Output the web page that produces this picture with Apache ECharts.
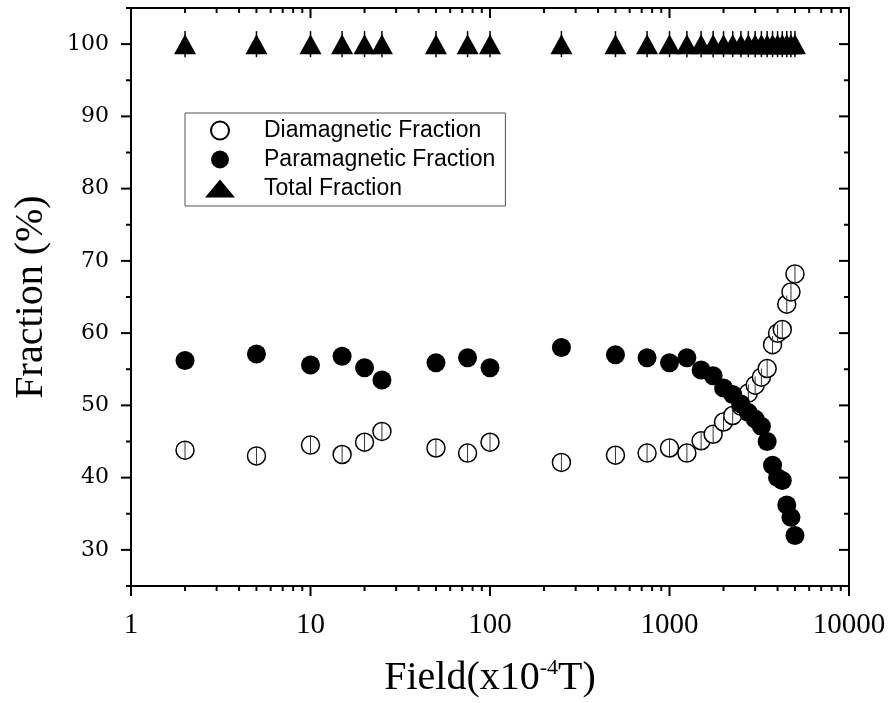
<!DOCTYPE html>
<html>
<head>
<meta charset="utf-8">
<title>Fraction vs Field</title>
<script src="https://cdn.jsdelivr.net/npm/echarts@6/dist/echarts.min.js"></script>
<style>
  html, body { margin: 0; padding: 0; background: #fff; }
  #chart { width: 891px; height: 703px; }
</style>
</head>
<body>
<div id="chart"></div>
<script>
// Applied field (x10^-4 T)
const fields = [2, 5, 10, 15, 20, 25, 50, 75, 100, 250, 500, 750,
  1000, 1250, 1500, 1750, 2000, 2250, 2500, 2750, 3000, 3250, 3500,
  3750, 4000, 4250, 4500, 4750, 5000];

// Fractions (%)
const diaValues = [43.8, 43.0, 44.5, 43.2, 44.9, 46.4, 44.1, 43.4, 44.9, 42.1, 43.1, 43.4,
  44.1, 43.4, 45.1, 46.0, 47.7, 48.6, 49.9, 51.7, 52.8, 53.9, 55.1,
  58.4, 60.0, 60.5, 64.0, 65.7, 68.2];
const paraValues = [56.2, 57.1, 55.6, 56.8, 55.2, 53.5, 55.9, 56.6, 55.2, 58.0, 57.0, 56.6,
  55.9, 56.6, 54.9, 54.1, 52.4, 51.5, 50.2, 49.0, 48.1, 47.1, 45.0,
  41.7, 40.0, 39.6, 36.2, 34.5, 32.0];
const totalValues = [100, 100, 100, 100, 100, 100, 100, 100, 100, 100, 100, 100,
  100, 100, 100, 100, 100, 100, 100, 100, 100, 100, 100,
  100, 100, 100, 100, 100, 100];

// Error bar half-widths (%)
const diaErrors = [1.2, 1.2, 1.2, 1.2, 1.2, 1.2, 1.2, 1.2, 1.2, 1.2, 1.2, 1.2,
  1.2, 1.2, 1.2, 1.2, 1.2, 1.2, 1.2, 1.2, 1.2, 1.2, 1.2,
  1.2, 1.2, 1.2, 1.2, 1.2, 1.2];
const totalErrors = [1.8, 1.8, 1.8, 1.8, 1.8, 1.8, 1.8, 1.8, 1.8, 1.8, 1.8, 1.8,
  1.8, 1.8, 1.8, 1.8, 1.8, 1.8, 1.8, 1.8, 1.8, 1.8, 1.8,
  1.8, 1.8, 1.8, 1.8, 1.8, 1.8];

// Axis ranges and tick values
const xMin = 1, xMax = 10000;
const yMin = 25, yMax = 105;
const xMajorTicks = [1, 10, 100, 1000, 10000];
const xMinorTicks = [2, 3, 4, 5, 6, 7, 8, 9,
  20, 30, 40, 50, 60, 70, 80, 90,
  200, 300, 400, 500, 600, 700, 800, 900,
  2000, 3000, 4000, 5000, 6000, 7000, 8000, 9000];
const yMajorTicks = [30, 40, 50, 60, 70, 80, 90, 100];
const yMinorTicks = [25, 35, 45, 55, 65, 75, 85, 95, 105];

const seriesNames = ['Diamagnetic Fraction', 'Paramagnetic Fraction', 'Total Fraction'];

const SERIF = '"Liberation Serif", "Times New Roman", serif';
const SERIF_WIDE = '"DejaVu Serif", serif';
const SANS = '"Liberation Sans", Arial, sans-serif';
const MAJOR_LEN = 10, MINOR_LEN = 5;

const chart = echarts.init(document.getElementById('chart'), null, { renderer: 'canvas' });

const pairs = (xs, ys) => xs.map((x, i) => [x, ys[i]]);
const errRows = (xs, ys, es) => xs.map((x, i) => [x, ys[i], es[i]]);

// Error bars drawn as thin vertical segments through each point
function errorBarRenderer(color, width) {
  return function (params, api) {
    const x = api.value(0), y = api.value(1), e = api.value(2);
    const top = api.coord([x, y + e]);
    const bot = api.coord([x, y - e]);
    return {
      type: 'line',
      shape: { x1: top[0], y1: top[1], x2: bot[0], y2: bot[1] },
      style: { stroke: color, lineWidth: width }
    };
  };
}

// Ticks on the bottom (outward) and top (inward) edges of the frame
const xTickRows = xMajorTicks.map(v => [v, yMin, 1]).concat(xMinorTicks.map(v => [v, yMin, 0]));
function xTickRenderer(params, api) {
  const v = api.value(0), major = api.value(2) === 1;
  const len = major ? MAJOR_LEN : MINOR_LEN;
  const b = api.coord([v, yMin]);
  const t = api.coord([v, yMax]);
  return {
    type: 'group',
    children: [
      { type: 'line', shape: { x1: b[0], y1: b[1], x2: b[0], y2: b[1] + len }, style: { stroke: '#000', lineWidth: 2 } },
      { type: 'line', shape: { x1: t[0], y1: t[1], x2: t[0], y2: t[1] + len }, style: { stroke: '#000', lineWidth: 2 } }
    ]
  };
}

// Ticks on the left (outward) and right (inward) edges of the frame
const yTickRows = yMajorTicks.map(v => [xMin, v, 1]).concat(yMinorTicks.map(v => [xMin, v, 0]));
function yTickRenderer(params, api) {
  const v = api.value(1), major = api.value(2) === 1;
  const len = major ? MAJOR_LEN : MINOR_LEN;
  const l = api.coord([xMin, v]);
  const r = api.coord([xMax, v]);
  return {
    type: 'group',
    children: [
      { type: 'line', shape: { x1: l[0] - len, y1: l[1], x2: l[0], y2: l[1] }, style: { stroke: '#000', lineWidth: 2 } },
      { type: 'line', shape: { x1: r[0] - len, y1: r[1], x2: r[0], y2: r[1] }, style: { stroke: '#000', lineWidth: 2 } }
    ]
  };
}

const axisLine = { show: true, onZero: false, lineStyle: { color: '#000', width: 2 } };

const option = {
  animation: false,
  backgroundColor: '#fff',
  grid: { left: 131, right: 42, top: 8, bottom: 113, containLabel: false },
  legend: {
    data: seriesNames,
    orient: 'vertical',
    left: 185,
    top: 113,
    padding: [6, 10, 6, 20],
    itemGap: 6,
    itemWidth: 30,
    itemHeight: 18,
    borderColor: '#555',
    borderWidth: 1,
    selectedMode: false,
    formatter: name => '{g|}' + name,
    textStyle: {
      fontFamily: SANS,
      fontSize: 23,
      color: '#000',
      lineHeight: 23,
      rich: { g: { width: 24 } }
    }
  },
  xAxis: [
    {
      type: 'log', logBase: 10, min: xMin, max: xMax, position: 'bottom',
      name: '{a|Field(x10}{s|-4}{a|T)}',
      nameLocation: 'middle',
      nameGap: 71,
      nameTextStyle: {
        rich: {
          a: { fontFamily: SERIF, fontSize: 40, color: '#000' },
          s: { fontFamily: SERIF, fontSize: 22, color: '#000', verticalAlign: 'top', padding: [0, 0, 20, 0] }
        }
      },
      axisLine: axisLine,
      axisTick: { show: false },
      splitLine: { show: false },
      minorTick: { show: false },
      axisLabel: {
        margin: 25, color: '#000', fontFamily: SERIF, fontSize: 29,
        formatter: v => String(Math.round(v))
      }
    },
    {
      type: 'log', logBase: 10, min: xMin, max: xMax, position: 'top',
      axisLine: axisLine, axisTick: { show: false }, axisLabel: { show: false }, splitLine: { show: false }
    }
  ],
  yAxis: [
    {
      type: 'value', min: yMin, max: yMax, interval: 5, position: 'left',
      name: 'Fraction (%)',
      nameLocation: 'middle',
      nameGap: 80,
      nameTextStyle: { fontFamily: SERIF, fontSize: 40, color: '#000' },
      axisLine: axisLine,
      axisTick: { show: false },
      splitLine: { show: false },
      axisLabel: {
        margin: 22, color: '#000', fontFamily: SERIF_WIDE, fontSize: 22,
        formatter: v => (v % 10 === 0 && v >= 30 && v <= 100) ? String(v) : ''
      }
    },
    {
      type: 'value', min: yMin, max: yMax, interval: 5, position: 'right',
      axisLine: axisLine, axisTick: { show: false }, axisLabel: { show: false }, splitLine: { show: false }
    }
  ],
  series: [
    {
      name: 'xTicks', type: 'custom', xAxisIndex: 0, yAxisIndex: 0,
      renderItem: xTickRenderer, data: xTickRows, clip: false, silent: true, z: 10,
      encode: { x: 0, y: 1 }
    },
    {
      name: 'yTicks', type: 'custom', xAxisIndex: 0, yAxisIndex: 0,
      renderItem: yTickRenderer, data: yTickRows, clip: false, silent: true, z: 10,
      encode: { x: 0, y: 1 }
    },
    {
      name: seriesNames[0], type: 'scatter', data: pairs(fields, diaValues),
      symbol: 'circle', symbolSize: 18, silent: true, z: 2,
      itemStyle: { color: '#fff', borderColor: '#000', borderWidth: 1.5, opacity: 1 }
    },
    {
      name: 'diaErr', type: 'custom', data: errRows(fields, diaValues, diaErrors),
      renderItem: errorBarRenderer('#333', 1), silent: true, z: 3,
      encode: { x: 0, y: 1 }
    },
    {
      name: seriesNames[1], type: 'scatter', data: pairs(fields, paraValues),
      symbol: 'circle', symbolSize: 19, silent: true, z: 4,
      itemStyle: { color: '#000', opacity: 1 }
    },
    {
      name: 'totalErr', type: 'custom', data: errRows(fields, totalValues, totalErrors),
      renderItem: errorBarRenderer('#000', 1.5), silent: true, z: 5,
      encode: { x: 0, y: 1 }
    },
    {
      name: seriesNames[2], type: 'scatter', data: pairs(fields, totalValues),
      symbol: 'triangle', symbolSize: [22, 20], silent: true, z: 6,
      itemStyle: { color: '#000', opacity: 1 }
    }
  ]
};

chart.setOption(option);
</script>
</body>
</html>
